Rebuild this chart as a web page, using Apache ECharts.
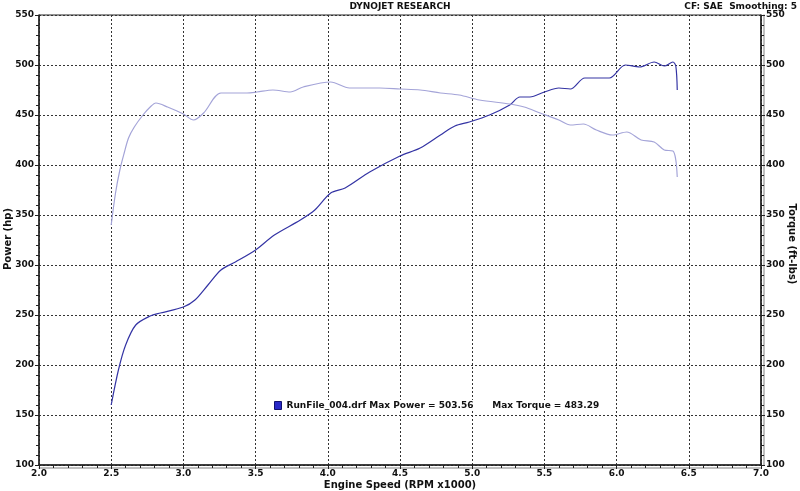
<!DOCTYPE html>
<html>
<head>
<meta charset="utf-8">
<script src="https://cdn.jsdelivr.net/npm/echarts@6/dist/echarts.min.js"></script>
<style>
html,body{margin:0;padding:0;background:#fff;}
#chart{width:800px;height:491px;}
</style>
</head>
<body>
<div id="chart"></div>
<script>
// ---- data ----
var powerRpm = [2.50, 2.55, 2.60, 2.67, 2.77, 2.84, 3.00, 3.08, 3.17, 3.26, 3.36, 3.50, 3.63, 3.81, 3.91, 4.02, 4.12, 4.29, 4.50, 4.64, 4.78, 4.88, 4.98, 5.12, 5.26, 5.33, 5.40, 5.50, 5.60, 5.68, 5.78, 5.95, 6.06, 6.16, 6.26, 6.33, 6.39, 6.41, 6.42];
var powerHp = [160, 195, 220, 240, 249, 252, 258, 265, 280, 295, 303, 315, 330, 345, 355, 372, 377, 393, 409, 417, 430, 439, 443, 450, 460, 468, 468, 473, 477, 476, 487, 487, 500, 498, 503, 499, 503, 499, 475];
var torqueRpm = [2.50, 2.53, 2.56, 2.59, 2.62, 2.66, 2.72, 2.77, 2.81, 2.89, 3.00, 3.07, 3.14, 3.26, 3.44, 3.51, 3.62, 3.74, 3.83, 4.02, 4.15, 4.36, 4.50, 4.64, 4.78, 4.91, 5.05, 5.26, 5.36, 5.47, 5.60, 5.68, 5.77, 5.86, 5.97, 6.07, 6.17, 6.26, 6.33, 6.39, 6.41, 6.42];
var torqueVal = [340, 372, 395, 412, 427, 438, 450, 458, 462, 458, 451, 445, 452, 472, 472, 473, 475, 473, 478, 483, 477, 477, 476, 475, 472, 470, 465, 461, 458, 452, 445, 440, 441, 435, 430, 433, 425, 423, 415, 414, 405, 388];
var runName = 'RunFile_004.drf';
var maxPower = '503.56';
var maxTorque = '483.29';
var titleText = 'DYNOJET RESEARCH';
var infoText = 'CF: SAE  Smoothing: 5';
var xName = 'Engine Speed (RPM x1000)';
var yLeftName = 'Power (hp)';
var yRightName = 'Torque (ft-lbs)';

function pairs(xs, ys){ return xs.map(function(x,i){ return [x, ys[i]]; }); }

var FONT = '"DejaVu Sans", Verdana, sans-serif';
var chart = echarts.init(document.getElementById('chart'), null, {renderer:'canvas'});

var yAxisCommon = {
  type:'value', min:100, max:550, interval:50,
  axisLine:{show:true, lineStyle:{color:'#222', width:1.5}},
  axisTick:{show:true, length:4, lineStyle:{color:'#222'}},
  minorTick:{show:true, splitNumber:5, length:3, lineStyle:{color:'#222'}},
  axisLabel:{color:'#111', fontFamily:FONT, fontWeight:'bold', fontSize:9, margin:5},
  splitLine:{show:true, lineStyle:{color:'#333', type:[2,2], width:1}}
};

var option = {
  animation:false,
  backgroundColor:'#fff',
  grid:{left:39, right:39, top:15, bottom:26, show:true, borderColor:'#222', borderWidth:1},
  legend:{
    show:true, left:274, top:400, padding:0, itemWidth:7, itemHeight:8, itemGap:4, icon:'rect',
    data:[{name:runName, itemStyle:{color:'#2828c8', borderColor:'#101070', borderWidth:1}}],
    formatter:function(n){ return n + ' Max Power = ' + maxPower + '      Max Torque = ' + maxTorque; },
    textStyle:{color:'#111', fontFamily:FONT, fontWeight:'bold', fontSize:9, backgroundColor:'#fff', padding:[1,0,1,0]},
    selectedMode:false
  },
  xAxis:{
    type:'value', min:2.0, max:7.0, interval:0.5,
    axisLine:{show:true, onZero:false, lineStyle:{color:'#222', width:1.5, shadowColor:'#aaa', shadowOffsetY:3, shadowBlur:0}},
    axisTick:{show:true, length:4, lineStyle:{color:'#222'}},
    minorTick:{show:true, splitNumber:5, length:3, lineStyle:{color:'#222'}},
    axisLabel:{color:'#111', fontFamily:FONT, fontWeight:'bold', fontSize:9, margin:4,
      formatter:function(v){ return v.toFixed(1); }},
    splitLine:{show:true, lineStyle:{color:'#333', type:[2,2], width:1}}
  },
  yAxis:[
    Object.assign({}, yAxisCommon, {position:'left'}),
    Object.assign({}, yAxisCommon, {position:'right',
      axisLine:{show:true, lineStyle:{color:'#222', width:1.5, shadowColor:'#aaa', shadowOffsetX:3, shadowBlur:0}},
      splitLine:{show:false}})
  ],
  series:[
    {name:runName, type:'line', yAxisIndex:0, data:pairs(powerRpm, powerHp), smooth:0.3,
      showSymbol:false, lineStyle:{color:'#3434a4', width:1.2}, itemStyle:{color:'#3434a4'}},
    {name:'Torque', type:'line', yAxisIndex:1, data:pairs(torqueRpm, torqueVal), smooth:0.3,
      showSymbol:false, lineStyle:{color:'#a4a4d8', width:1.2}, itemStyle:{color:'#a4a4d8'}}
  ],
  graphic:[
    {type:'text', left:'center', top:2, style:{text:titleText, fill:'#111', font:'bold 9px ' + FONT}},
    {type:'text', right:3, top:2, style:{text:infoText, fill:'#111', font:'bold 9px ' + FONT}},
    {type:'text', x:400, y:485, style:{text:xName, fill:'#111', font:'bold 10px ' + FONT, align:'center', verticalAlign:'middle'}},
    {type:'text', x:8, y:239, rotation:Math.PI/2, style:{text:yLeftName, fill:'#111', font:'bold 10px ' + FONT, align:'center', verticalAlign:'middle'}},
    {type:'text', x:792, y:244, rotation:-Math.PI/2, style:{text:yRightName, fill:'#111', font:'bold 10px ' + FONT, align:'center', verticalAlign:'middle'}}
  ]
};
chart.setOption(option);
</script>
</body>
</html>
